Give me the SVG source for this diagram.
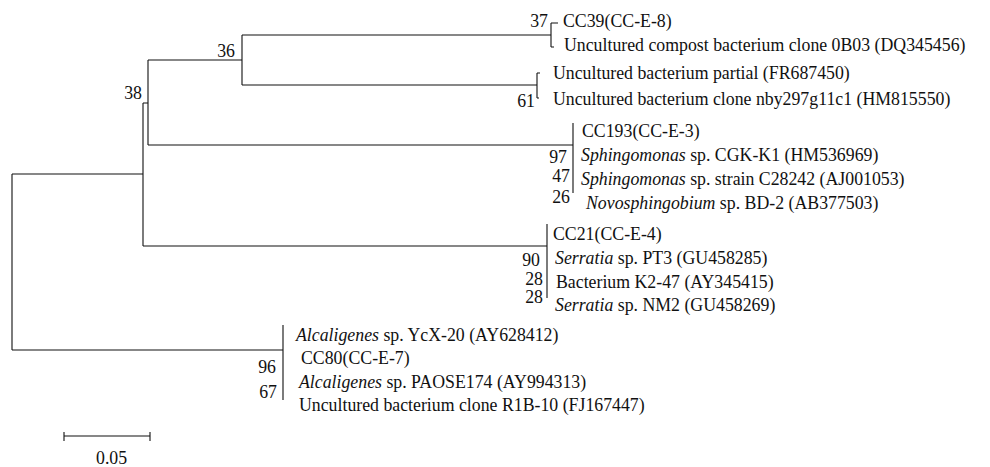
<svg xmlns="http://www.w3.org/2000/svg" width="990" height="467" viewBox="0 0 990 467">
<style>
.t{font-family:"Liberation Serif","Times New Roman",serif;font-size:17.8px;fill:#111}
.n{font-family:"Liberation Serif","Times New Roman",serif;font-size:17.8px;fill:#111;text-anchor:end}
.i{font-style:italic}
.e{fill:none;stroke:#111;stroke-width:1.1}
</style>
<rect width="990" height="467" fill="#fff"/>
<g id="connectors">
<path class="e" d="M12,174V350M12,174H143M143,103V246M143,103H148M148,60V145M148,60H242M242,35V85M242,35H551M551,23V47M551,23H558M551,47H554M242,85H537M537,73V98M537,73H540M537,98H539M148,145H573M573,123V193M143,246H547M547,224V298M12,350H283M283,325V400"/>
</g>
<g id="node-root38"><text class="n" x="142" y="99">38</text></g>
<g id="node-36"><text class="n" x="235" y="57">36</text></g>
<g id="node-37"><text class="n" x="548" y="27">37</text></g>
<g id="node-61"><text class="n" x="535" y="107">61</text></g>
<g id="leaf-cc39"><text class="t" x="563" y="27">CC39(CC-E-8)</text></g>
<g id="leaf-0b03"><text class="t" x="564" y="51">Uncultured compost bacterium clone 0B03 (DQ345456)</text></g>
<g id="leaf-fr687450"><text class="t" x="553" y="79">Uncultured bacterium partial (FR687450)</text></g>
<g id="leaf-hm815550"><text class="t" x="553" y="105">Uncultured bacterium clone nby297g11c1 (HM815550)</text></g>
<g id="node-97"><text class="n" x="567" y="163">97</text></g>
<g id="node-47"><text class="n" x="570" y="182">47</text></g>
<g id="node-26"><text class="n" x="570" y="203">26</text></g>
<g id="leaf-cc193"><text class="t" x="582" y="137">CC193(CC-E-3)</text></g>
<g id="leaf-hm536969"><text class="t" x="581" y="161"><tspan class="i">Sphingomonas</tspan> sp. CGK-K1 (HM536969)</text></g>
<g id="leaf-aj001053"><text class="t" x="581" y="185"><tspan class="i">Sphingomonas</tspan> sp. strain C28242 (AJ001053)</text></g>
<g id="leaf-ab377503"><text class="t" x="586" y="209"><tspan class="i">Novosphingobium</tspan> sp. BD-2 (AB377503)</text></g>
<g id="node-90"><text class="n" x="540" y="266">90</text></g>
<g id="node-28a"><text class="n" x="543" y="285">28</text></g>
<g id="node-28b"><text class="n" x="543" y="303">28</text></g>
<g id="leaf-cc21"><text class="t" x="553" y="240">CC21(CC-E-4)</text></g>
<g id="leaf-gu458285"><text class="t" x="555" y="264"><tspan class="i">Serratia</tspan> sp. PT3 (GU458285)</text></g>
<g id="leaf-ay345415"><text class="t" x="556" y="288">Bacterium K2-47 (AY345415)</text></g>
<g id="leaf-gu458269"><text class="t" x="555" y="311"><tspan class="i">Serratia</tspan> sp. NM2 (GU458269)</text></g>
<g id="node-96"><text class="n" x="276" y="373">96</text></g>
<g id="node-67"><text class="n" x="277" y="398">67</text></g>
<g id="leaf-ay628412"><text class="t" x="296" y="341"><tspan class="i">Alcaligenes</tspan> sp. YcX-20 (AY628412)</text></g>
<g id="leaf-cc80"><text class="t" x="301" y="364">CC80(CC-E-7)</text></g>
<g id="leaf-ay994313"><text class="t" x="299" y="388"><tspan class="i">Alcaligenes</tspan> sp. PAOSE174 (AY994313)</text></g>
<g id="leaf-fj167447"><text class="t" x="299" y="411">Uncultured bacterium clone R1B-10 (FJ167447)</text></g>
<g id="scale">
<path class="e" d="M64,436H150M64,432V441M150,432V441"/>
<text class="t" x="96" y="464">0.05</text>
</g>
</svg>
